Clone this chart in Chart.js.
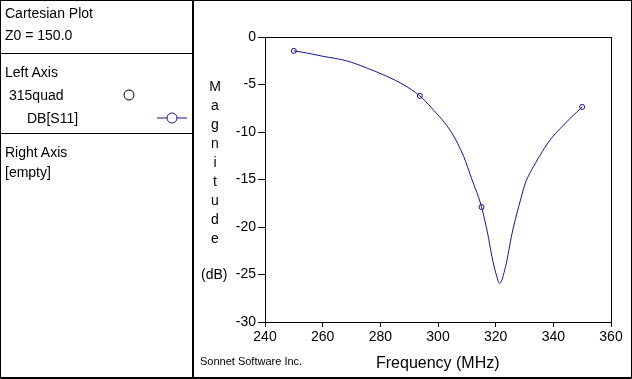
<!DOCTYPE html>
<html>
<head>
<meta charset="utf-8">
<script src="https://cdn.jsdelivr.net/npm/chart.js@4/dist/chart.umd.min.js"></script>
<style>
  body { margin: 0; background: #fff; }
  #wrap { position: relative; width: 632px; height: 379px; font-family: "Liberation Sans", Arial, sans-serif; color: #000; }
  #chart { position: absolute; left: 0; top: 0; }
  .frame { position: absolute; left: 0; top: 0; width: 630px; height: 376px; border: 1px solid #000; border-bottom-width: 2px; box-sizing: content-box; }
  .vline { position: absolute; left: 192px; top: 0; width: 2px; height: 379px; background: #000; }
  .hline { position: absolute; left: 0; width: 193px; height: 1px; background: #000; }
  .t { position: absolute; font-size: 14px; white-space: nowrap; line-height: 16px; }
  .ytitle { position: absolute; left: 208px; top: 77px; width: 14px; text-align: center; font-size: 14px; line-height: 19px; }
  .db { position: absolute; left: 201px; top: 266px; font-size: 14px; }
  .credit { position: absolute; left: 200px; top: 355px; font-size: 11px; }
  .xtitle { position: absolute; left: 376px; top: 354px; font-size: 16px; }
</style>
</head>
<body>
<div id="wrap">
  <canvas id="chart" width="632" height="379"></canvas>
  <div class="frame"></div>
  <div class="vline"></div>
  <div class="hline" style="top:53px"></div>
  <div class="hline" style="top:133px"></div>
  <div class="t" style="left:5px;top:5px">Cartesian Plot</div>
  <div class="t" style="left:5px;top:27px">Z0 = 150.0</div>
  <div class="t" style="left:5px;top:64px">Left Axis</div>
  <div class="t" style="left:9px;top:87px">315quad</div>
  <svg style="position:absolute;left:122px;top:88px" width="14" height="14"><circle cx="7" cy="7" r="5" fill="none" stroke="#000" stroke-width="1"/></svg>
  <div class="t" style="left:27px;top:110px">DB[S11]</div>
  <svg style="position:absolute;left:155px;top:111px" width="34" height="14"><line x1="2" y1="7" x2="32" y2="7" stroke="#14149a"/><circle cx="17" cy="7" r="5" fill="#fff" stroke="#14149a"/></svg>
  <div class="t" style="left:5px;top:144px">Right Axis</div>
  <div class="t" style="left:5px;top:164px">[empty]</div>
  <div class="ytitle">M<br>a<br>g<br>n<br>i<br>t<br>u<br>d<br>e</div>
  <div class="db">(dB)</div>
  <div class="credit">Sonnet Software Inc.</div>
  <div class="xtitle">Frequency (MHz)</div>
</div>
<script>
// DB[S11] of 315quad
const freqs = [250, 254.3, 260.1, 268.2, 275.2, 282.2, 287.9, 293.7, 297.8, 304.8, 308.9, 311.8, 314.1, 315.1,
  317.2, 318.7, 320.1, 321.4, 323.4, 325.7, 328.0, 330.3, 333.2, 336.2, 339.1, 342.5, 346.0, 350];
const s11 = [-1.46, -1.67, -2.03, -2.5, -3.25, -4.13, -5.0, -6.2, -7.47, -10.1, -12.57, -15.03, -16.9, -17.9,
  -20.65, -23.1, -24.9, -25.93, -24.2, -20.65, -17.85, -15.38, -13.6, -12.05, -10.75, -9.6, -8.52, -7.36];
// analysis points shown with markers
const markerFreqs = [250, 293.7, 315.1, 350];
const markerS11 = [-1.46, -6.2, -17.9, -7.36];
const xTicks = [240, 260, 280, 300, 320, 340, 360];
const yTicks = [0, -5, -10, -15, -20, -25, -30];

const blue = '#14149a';

const boxPlugin = {
  id: 'box',
  afterDraw(chart) {
    const a = chart.chartArea;
    const ctx = chart.ctx;
    ctx.save();
    ctx.strokeStyle = '#000';
    ctx.lineWidth = 1;
    ctx.strokeRect(Math.round(a.left) + 0.5, Math.round(a.top) + 0.5, Math.round(a.right - a.left), Math.round(a.bottom - a.top));
    ctx.restore();
  }
};

new Chart(document.getElementById('chart'), {
  type: 'scatter',
  data: {
    datasets: [
      {
        data: freqs.map((f, i) => ({ x: f, y: s11[i] })),
        showLine: true,
        borderColor: blue,
        borderWidth: 1,
        pointRadius: 0,
        cubicInterpolationMode: 'monotone'
      },
      {
        data: markerFreqs.map((f, i) => ({ x: f, y: markerS11[i] })),
        showLine: false,
        pointRadius: 2.5,
        pointBorderWidth: 1,
        pointBorderColor: blue,
        pointBackgroundColor: '#fff'
      }
    ]
  },
  options: {
    responsive: false,
    animation: false,
    layout: { padding: { left: 200, right: 21, top: 37, bottom: 20 } },
    plugins: { legend: { display: false }, tooltip: { enabled: false } },
    scales: {
      x: {
        type: 'linear', min: 240, max: 360,
        afterBuildTicks: s => { s.ticks = xTicks.map(v => ({ value: v })); },
        afterFit: s => { s.height = 37; },
        grid: { drawOnChartArea: false, tickLength: 5, color: '#000' },
        border: { color: '#000' },
        ticks: { color: '#000', font: { size: 14, family: 'Liberation Sans' }, padding: 2, maxRotation: 0 }
      },
      y: {
        type: 'linear', min: -30, max: 0,
        afterBuildTicks: s => { s.ticks = yTicks.map(v => ({ value: v })); },
        afterFit: s => { s.width = 65; },
        grid: { drawOnChartArea: false, tickLength: 7, color: '#000' },
        border: { color: '#000' },
        ticks: { color: '#000', font: { size: 14, family: 'Liberation Sans' }, padding: 2 }
      }
    }
  },
  plugins: [boxPlugin]
});
</script>
</body>
</html>
